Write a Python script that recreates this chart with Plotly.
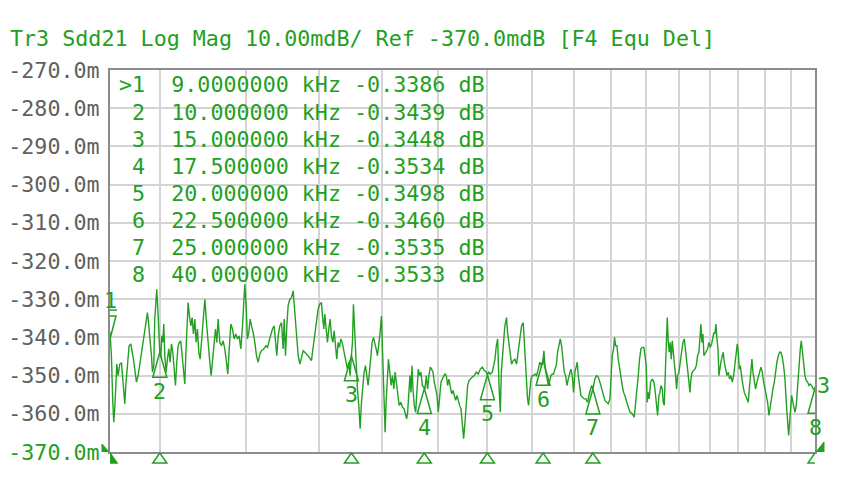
import numpy as np
import plotly.graph_objects as go

# ---------------- data ----------------
freq_khz = [
    9.000, 9.027, 9.053, 9.072, 9.091, 9.111, 9.130, 9.156, 9.188, 9.221, 9.240, 9.266, 9.286, 9.306, 9.325,
    9.352, 9.371, 9.405, 9.431, 9.458, 9.484, 9.518, 9.552, 9.585, 9.619, 9.653, 9.687, 9.722, 9.742, 9.770,
    9.797, 9.825, 9.846, 9.873, 9.894, 9.915, 9.936, 9.958, 9.979, 10.000, 10.021, 10.042, 10.063, 10.085, 10.106,
    10.135, 10.163, 10.192, 10.221, 10.250, 10.279, 10.308, 10.337, 10.366, 10.395, 10.425, 10.454, 10.484, 10.513,
    10.543, 10.565, 10.588, 10.618, 10.648, 10.678, 10.708, 10.738, 10.769, 10.799, 10.829, 10.860, 10.891, 10.922,
    10.960, 11.000, 11.038, 11.077, 11.116, 11.147, 11.187, 11.218, 11.250, 11.282, 11.314, 11.354, 11.394, 11.434,
    11.474, 11.515, 11.548, 11.580, 11.621, 11.662, 11.703, 11.745, 11.786, 11.828, 11.870, 11.912, 11.945, 11.971,
    12.005, 12.038, 12.072, 12.107, 12.141, 12.184, 12.227, 12.270, 12.313, 12.357, 12.401, 12.462, 12.515, 12.559,
    12.603, 12.648, 12.692, 12.737, 12.773, 12.809, 12.846, 12.891, 12.937, 12.982, 13.010, 13.047, 13.083, 13.120,
    13.167, 13.213, 13.260, 13.288, 13.326, 13.363, 13.401, 13.448, 13.496, 13.544, 13.590, 13.686, 13.783, 13.832,
    13.881, 13.940, 13.979, 14.028, 14.078, 14.108, 14.148, 14.177, 14.218, 14.258, 14.298, 14.338, 14.379, 14.420,
    14.461, 14.501, 14.542, 14.583, 14.625, 14.666, 14.707, 14.749, 14.791, 14.832, 14.874, 14.916, 14.958, 15.000,
    15.032, 15.064, 15.096, 15.128, 15.160, 15.192, 15.235, 15.279, 15.322, 15.365, 15.408, 15.452, 15.495, 15.539,
    15.583, 15.627, 15.671, 15.716, 15.760, 15.805, 15.849, 15.894, 15.939, 15.984, 16.018, 16.052, 16.086, 16.108,
    16.142, 16.177, 16.222, 16.268, 16.314, 16.360, 16.407, 16.453, 16.500, 16.546, 16.593, 16.651, 16.710, 16.769,
    16.858, 16.894, 16.942, 16.978, 17.014, 17.050, 17.086, 17.134, 17.183, 17.231, 17.280, 17.329, 17.378, 17.427,
    17.500, 17.525, 17.575, 17.624, 17.674, 17.724, 17.774, 17.825, 17.875, 17.925, 17.976, 18.027, 18.078, 18.129,
    18.180, 18.231, 18.283, 18.335, 18.386, 18.438, 18.490, 18.543, 18.595, 18.648, 18.700, 18.753, 18.806, 18.859,
    18.913, 18.966, 19.020, 19.073, 19.127, 19.181, 19.236, 19.290, 19.372, 19.454, 19.536, 19.619, 19.702, 19.786,
    19.870, 19.954, 20.000, 20.067, 20.124, 20.209, 20.266, 20.323, 20.381, 20.439, 20.496, 20.554, 20.598, 20.641,
    20.685, 20.729, 20.754, 20.827, 20.871, 20.930, 20.990, 21.049, 21.123, 21.198, 21.273, 21.348, 21.423, 21.499,
    21.575, 21.621, 21.682, 21.728, 21.774, 21.820, 21.866, 21.928, 21.990, 22.052, 22.114, 22.192, 22.271, 22.350,
    22.429, 22.500, 22.540, 22.603, 22.667, 22.747, 22.812, 22.876, 22.941, 23.005, 23.071, 23.136, 23.201, 23.267,
    23.333, 23.398, 23.464, 23.531, 23.597, 23.664, 23.731, 23.798, 23.865, 23.933, 24.000, 24.068, 24.136, 24.187,
    24.238, 24.307, 24.375, 24.461, 24.548, 24.634, 24.722, 24.792, 24.862, 24.932, 25.000, 25.108, 25.197, 25.286,
    25.375, 25.465, 25.555, 25.645, 25.736, 25.826, 25.918, 25.973, 26.046, 26.120, 26.175, 26.231, 26.305, 26.379,
    26.454, 26.528, 26.603, 26.678, 26.754, 26.829, 26.905, 26.981, 27.058, 27.172, 27.288, 27.365, 27.442, 27.519,
    27.597, 27.675, 27.754, 27.852, 27.911, 27.989, 28.049, 28.108, 28.167, 28.247, 28.347, 28.447, 28.508, 28.588,
    28.669, 28.750, 28.811, 28.872, 28.954, 29.015, 29.077, 29.138, 29.200, 29.262, 29.324, 29.386, 29.448, 29.510,
    29.573, 29.635, 29.698, 29.782, 29.845, 29.908, 29.993, 30.077, 30.163, 30.248, 30.333, 30.419, 30.483, 30.548,
    30.634, 30.699, 30.764, 30.851, 30.938, 31.026, 31.113, 31.201, 31.290, 31.356, 31.422, 31.489, 31.556, 31.623,
    31.780, 31.869, 31.959, 32.050, 32.140, 32.231, 32.299, 32.368, 32.436, 32.505, 32.574, 32.643, 32.712, 32.781,
    32.874, 32.944, 33.013, 33.107, 33.200, 33.294, 33.388, 33.483, 33.577, 33.672, 33.767, 33.863, 33.935, 34.006,
    34.078, 34.150, 34.247, 34.344, 34.441, 34.538, 34.636, 34.733, 34.832, 34.930, 35.004, 35.078, 35.177, 35.277,
    35.377, 35.477, 35.577, 35.678, 35.778, 35.879, 35.981, 36.082, 36.184, 36.287, 36.389, 36.492, 36.595, 36.699,
    36.802, 36.906, 37.010, 37.115, 37.220, 37.325, 37.430, 37.536, 37.642, 37.749, 37.829, 37.909, 37.989, 38.070,
    38.177, 38.258, 38.339, 38.447, 38.556, 38.665, 38.775, 38.857, 38.939, 39.049, 39.159, 39.270, 39.381, 39.492,
    39.604, 39.716, 39.856, 40.000,
]

sdd21_mdb = [
    -338.6, -344.8, -357.0, -362.2, -358.7, -352.6, -347.0, -350.0, -347.0, -346.7, -350.0, -354.4, -357.4, -352.6, -349.6,
    -345.7, -342.2, -341.7, -344.4, -345.7, -348.3, -351.7, -350.0, -347.0, -344.4, -341.3, -337.8, -335.7, -333.5, -337.0,
    -340.4, -344.8, -349.1, -347.4, -335.2, -332.2, -327.4, -332.6, -341.3, -343.9, -345.2, -339.6, -341.3, -336.5, -344.8,
    -349.1, -345.7, -343.0, -346.5, -341.7, -343.9, -349.1, -352.6, -346.5, -342.2, -341.3, -340.9, -344.8, -349.1,
    -352.2, -344.8, -336.1, -330.9, -334.4, -337.0, -334.8, -339.1, -335.2, -341.3, -337.8, -343.9, -345.7, -340.9,
    -336.1, -330.0, -336.1, -342.2, -346.5, -350.0, -344.8, -340.4, -337.8, -341.3, -335.2, -341.3, -342.2, -340.9,
    -343.0, -346.5, -349.6, -343.5, -336.5, -337.8, -340.4, -339.1, -340.4, -339.6, -343.0, -337.0, -330.9, -326.1,
    -331.7, -340.4, -338.7, -335.2, -337.0, -338.7, -341.3, -344.8, -346.5, -344.4, -343.5, -343.0, -342.2, -342.6,
    -340.9, -339.1, -337.8, -337.0, -341.3, -344.8, -339.6, -337.0, -336.1, -343.0, -335.2, -344.8, -337.0, -331.7,
    -330.0, -329.6, -327.8, -331.7, -336.1, -341.3, -344.8, -347.0, -344.8, -343.5, -343.9, -344.8, -346.1, -343.0,
    -339.6, -335.2, -332.6, -331.3, -330.9, -334.4, -337.8, -333.9, -338.7, -341.3, -337.8, -335.2, -339.6, -341.3,
    -338.3, -342.2, -345.7, -341.3, -342.6, -340.4, -341.3, -343.0, -344.8, -345.7, -348.3, -346.5, -350.0, -344.8,
    -341.3, -331.3, -337.0, -345.7, -350.0, -353.5, -357.8, -363.9, -357.0, -352.6, -349.1, -347.4, -350.0, -352.6,
    -349.1, -345.7, -341.3, -340.0, -341.3, -343.0, -344.8, -342.2, -338.7, -334.4, -342.2, -350.0, -357.8, -364.8,
    -357.0, -350.0, -345.7, -349.1, -352.6, -350.0, -353.5, -349.1, -352.6, -354.4, -357.8, -357.0, -358.3, -358.7,
    -361.3, -359.6, -355.2, -350.0, -354.4, -347.4, -353.5, -357.8, -359.6, -353.5, -348.3, -350.0, -349.1, -352.6,
    -353.4, -353.5, -350.0, -353.5, -350.0, -347.8, -348.3, -349.1, -351.7, -353.5, -355.2, -359.6, -354.4, -351.7,
    -350.9, -350.0, -349.6, -350.0, -352.6, -350.9, -353.5, -354.8, -353.9, -355.2, -356.5, -355.2, -357.0, -357.8,
    -358.7, -363.9, -366.5, -362.2, -357.0, -352.6, -351.3, -350.9, -350.4, -350.0, -349.1, -349.6, -348.3, -347.8,
    -348.7, -349.1, -349.8, -349.1, -349.6, -349.1, -347.4, -345.7, -342.2, -340.4, -352.6, -359.6, -349.1, -344.8,
    -341.3, -338.7, -337.0, -334.8, -338.7, -341.3, -344.8, -347.0, -346.1, -345.7, -347.0, -343.9, -339.6, -337.0,
    -336.1, -341.3, -346.5, -350.0, -356.1, -357.8, -355.2, -350.9, -350.0, -350.0, -349.6, -350.0, -348.3, -346.5,
    -347.4, -346.0, -343.5, -348.3, -350.0, -352.6, -351.7, -350.0, -349.6, -349.6, -348.3, -347.4, -343.9, -342.2,
    -340.4, -342.2, -345.7, -349.1, -350.0, -352.6, -350.9, -349.1, -348.3, -350.0, -354.4, -349.1, -347.4, -346.5,
    -350.0, -353.5, -355.2, -355.7, -356.1, -356.1, -357.0, -355.2, -353.5, -352.6, -353.5, -350.9, -350.0, -350.4,
    -351.7, -353.5, -355.2, -356.5, -357.0, -357.4, -356.1, -351.7, -344.8, -343.0, -340.0, -342.2, -342.2, -345.7,
    -348.3, -350.0, -352.6, -354.4, -355.2, -356.5, -357.8, -358.7, -359.6, -360.0, -360.9, -357.8, -354.4, -350.0,
    -345.7, -343.0, -342.6, -342.6, -344.8, -347.4, -357.0, -354.4, -356.1, -351.7, -350.9, -351.7, -353.5, -357.0,
    -360.4, -355.2, -354.4, -352.6, -353.5, -357.0, -357.8, -350.0, -341.3, -334.8, -341.3, -343.9, -341.3, -345.7,
    -340.9, -344.8, -346.5, -350.0, -353.5, -350.0, -349.1, -346.5, -343.9, -341.3, -340.4, -343.0, -345.7, -348.3,
    -351.7, -354.4, -350.9, -349.1, -348.7, -348.3, -347.4, -344.8, -343.9, -339.1, -336.5, -341.3, -339.1, -344.8,
    -343.5, -343.0, -341.3, -342.6, -341.7, -340.4, -338.7, -339.1, -336.5, -340.4, -343.0, -350.0, -347.4, -346.5,
    -344.8, -343.9, -346.5, -348.3, -350.0, -349.1, -350.9, -350.0, -351.7, -350.0, -346.5, -343.9, -341.7, -343.9,
    -348.3, -347.4, -350.9, -352.6, -354.4, -355.2, -356.1, -357.0, -352.6, -347.4, -345.7, -349.1, -351.7, -353.5,
    -351.7, -350.0, -349.1, -347.8, -349.1, -351.7, -353.5, -354.4, -357.0, -360.4, -357.8, -355.2, -353.5, -351.7,
    -348.3, -346.5, -344.8, -343.9, -343.9, -345.2, -347.4, -350.9, -357.0, -362.2, -365.7, -362.2, -357.8, -355.2,
    -357.0, -358.7, -359.6, -357.8, -352.6, -346.5, -343.0, -340.9, -343.9, -346.5, -350.0, -351.3, -351.7, -352.6,
    -352.2, -352.6, -353.5, -353.3,
]

marker_ids = [1, 2, 3, 4, 5, 6, 7, 8]
marker_freq_khz = [9.0, 10.0, 15.0, 17.5, 20.0, 22.5, 25.0, 40.0]
marker_freq_text = ["9.0000000", "10.000000", "15.000000", "17.500000",
                    "20.000000", "22.500000", "25.000000", "40.000000"]
marker_val_db = [-0.3386, -0.3439, -0.3448, -0.3534, -0.3498, -0.3460, -0.3535, -0.3533]

y_ticks = [-370, -360, -350, -340, -330, -320, -310, -300, -290, -280, -270]
x_grid_khz = [10, 12, 14, 16, 18, 20, 22, 24, 26, 28, 30, 32, 34, 36, 38, 40]
title_text = "Tr3 Sdd21 Log Mag 10.00mdB/ Ref -370.0mdB [F4 Equ Del]"
trace_id = "3"

# ---------------- style ----------------
GREEN = "#22a022"
GRAY_TXT = "#606060"
GRID = "#d4d4d4"
FRAME = "#8c8c8c"
FONT = "DejaVu Sans Mono"
FS = 21.7

OFF = 8                      # page body margin of the written html
W, H = 843 - OFF, 487 - OFF
PL, PT, PR, PB = 110, 70, 815, 452   # plot box in page pixels
ML, MT = PL - OFF, PT - OFF
MR, MB = W - (PR - OFF), H - (PB - OFF)
PW, PH = PR - PL, PB - PT

marker_val_mdb = [v * 1000 for v in marker_val_db]

fig = go.Figure()
fig.add_trace(go.Scatter(
    x=freq_khz, y=sdd21_mdb, mode="lines",
    line=dict(color=GREEN, width=1.4), hoverinfo="skip", showlegend=False,
    cliponaxis=False,
))

tick_text = []
for v in y_ticks:
    t = f"{v:.1f}m"
    if v == y_ticks[0]:
        t = f"<span style='color:{GREEN}'>{t}</span>"
    tick_text.append(t)

fig.update_layout(
    width=W, height=H, autosize=False,
    margin=dict(l=ML, r=MR, t=MT, b=MB, autoexpand=False),
    paper_bgcolor="white", plot_bgcolor="white",
    font=dict(family=FONT, size=FS, color=GRAY_TXT),
    title=dict(text=title_text, x=(10 - OFF) / W, y=1 - (38 - OFF) / H,
               xanchor="left", yanchor="middle",
               xref="container", yref="container",
               font=dict(family=FONT, size=FS, color=GREEN)),
    xaxis=dict(type="log", range=[np.log10(9), np.log10(40)], automargin=False,
               tickvals=x_grid_khz, showticklabels=False, ticks="",
               showgrid=True, gridcolor=GRID, gridwidth=2, zeroline=False,
               showline=True, mirror=True, linecolor=FRAME, linewidth=2),
    yaxis=dict(range=[y_ticks[0], y_ticks[-1]], tickvals=y_ticks, ticktext=tick_text,
               ticks="", ticklabelstandoff=4, automargin=False,
               showgrid=True, gridcolor=GRID, gridwidth=2, zeroline=False,
               showline=True, mirror=True, linecolor=FRAME, linewidth=2,
               tickfont=dict(family=FONT, size=FS, color=GRAY_TXT)),
)

annotations = []
# marker table
row_h = 27.14
for i, (mid, ft, mv) in enumerate(zip(marker_ids, marker_freq_text, marker_val_db)):
    prefix = f">{mid}" if i == 0 else f" {mid}"
    txt = f"{prefix}  {ft} kHz {mv:.4f} dB"
    ypix = 85 + i * row_h
    annotations.append(dict(
        text=txt, xref="paper", yref="paper",
        x=(117 - PL) / PW, y=(PB - ypix) / PH,
        xanchor="left", yanchor="middle", showarrow=False,
        font=dict(family=FONT, size=FS, color=GREEN)))

shapes = []
for i, (mid, f, v) in enumerate(zip(marker_ids, marker_freq_khz, marker_val_mdb)):
    if i == 0:
        # active marker: bar + inverted triangle above trace, label on top
        shapes.append(dict(type="path", xref="x", yref="y", xsizemode="pixel", ysizemode="pixel",
                           xanchor=f, yanchor=v, path="M -7,22 L 7,22",
                           line=dict(color=GREEN, width=1.5)))
        shapes.append(dict(type="path", xref="x", yref="y", xsizemode="pixel", ysizemode="pixel",
                           xanchor=f, yanchor=v, path="M -6,16 L 6,16 L 0,-7 Z",
                           line=dict(color=GREEN, width=1.5)))
        annotations.append(dict(text=str(mid), x=np.log10(f), y=v, xref="x", yref="y",
                                yshift=32, showarrow=False,
                                font=dict(family=FONT, size=FS, color=GREEN)))
        bottom_fill = GREEN
    else:
        shapes.append(dict(type="path", xref="x", yref="y", xsizemode="pixel", ysizemode="pixel",
                           xanchor=f, yanchor=v, path="M 0,0 L -7,-25 L 7,-25 Z",
                           line=dict(color=GREEN, width=1.5)))
        annotations.append(dict(text=str(mid), x=np.log10(f), y=v, xref="x", yref="y",
                                yshift=-39, showarrow=False,
                                font=dict(family=FONT, size=FS, color=GREEN)))
        bottom_fill = "rgba(0,0,0,0)"
    # marker indicator below the x axis
    shapes.append(dict(type="path", xref="x", yref="paper", xsizemode="pixel", ysizemode="pixel",
                       xanchor=f, yanchor=0, path="M 0,-1 L -7,-11 L 7,-11 Z",
                       fillcolor=bottom_fill, line=dict(color=GREEN, width=1.5)))

# reference level arrows on both sides
shapes.append(dict(type="path", xref="paper", yref="y", xsizemode="pixel", ysizemode="pixel",
                   xanchor=0, yanchor=y_ticks[0], path="M -8,8 L -1,0 L -8,-8 Z",
                   fillcolor=GREEN, line=dict(color=GREEN, width=1)))
shapes.append(dict(type="path", xref="paper", yref="y", xsizemode="pixel", ysizemode="pixel",
                   xanchor=1, yanchor=y_ticks[0], path="M 9,10 L 1,0 L 9,-8 Z",
                   fillcolor=GREEN, line=dict(color=GREEN, width=1)))

# trace number at right end of trace
annotations.append(dict(text=trace_id, x=1, y=sdd21_mdb[-1], xref="paper", yref="y",
                        xanchor="left", xshift=0, yshift=3, showarrow=False,
                        font=dict(family=FONT, size=FS, color=GREEN)))

fig.update_layout(annotations=annotations, shapes=shapes)
fig.write_html("out.html")
